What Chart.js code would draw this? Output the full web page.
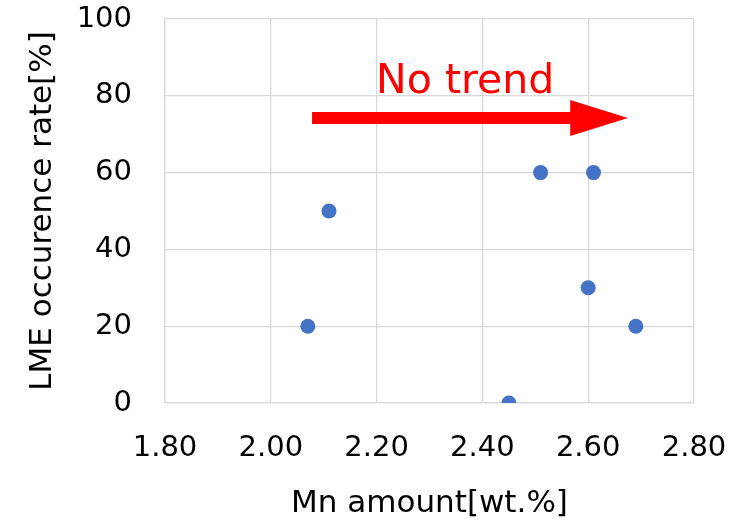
<!DOCTYPE html>
<html>
<head>
<meta charset="utf-8">
<script src="https://cdn.jsdelivr.net/npm/chart.js@4.4.1/dist/chart.umd.min.js"></script>
<style>
  html, body { margin: 0; padding: 0; background: #fff; }
  #wrap { width: 751px; height: 523px; }
</style>
</head>
<body>
<div id="wrap"><canvas id="c" width="751" height="523"></canvas></div>
<script>
// Mn content [wt.%] and LME occurrence rate [%] for each sample
const mnAmount = [2.07, 2.11, 2.45, 2.51, 2.60, 2.61, 2.69];
const lmeRate  = [20, 50, 0, 60, 30, 60, 20];

// Axis ranges and tick steps
const xTicks = [1.8, 2.0, 2.2, 2.4, 2.6, 2.8];
const yTicks = [0, 20, 40, 60, 80, 100];

// Annotation: trend arrow endpoints in data units, and its caption
const arrowStart = { x: 2.078, y: 74.2 };
const arrowEnd   = { x: 2.675, y: 74.2 };
const arrowHeadBase = 2.566;
const trendText = 'No trend';
const trendTextPos = { x: 2.2, y: 80.8 };

const FONT = 'DejaVu Sans, Verdana, sans-serif';

const points = mnAmount.map((x, i) => ({ x, y: lmeRate[i] }));

// Draws the red "No trend" arrow and caption on top of the plot
const trendArrow = {
  id: 'trendArrow',
  afterDatasetsDraw(chart) {
    const { ctx, scales: { x, y } } = chart;
    const x0 = x.getPixelForValue(arrowStart.x);
    const x1 = x.getPixelForValue(arrowEnd.x);
    const xh = x.getPixelForValue(arrowHeadBase);
    const yc = y.getPixelForValue(arrowStart.y);
    const shaft = 6, head = 18;
    ctx.save();
    ctx.fillStyle = '#FF0000';
    ctx.beginPath();
    ctx.moveTo(x0, yc - shaft);
    ctx.lineTo(xh, yc - shaft);
    ctx.lineTo(xh, yc - head);
    ctx.lineTo(x1, yc);
    ctx.lineTo(xh, yc + head);
    ctx.lineTo(xh, yc + shaft);
    ctx.lineTo(x0, yc + shaft);
    ctx.closePath();
    ctx.fill();
    ctx.font = '41px ' + FONT;
    ctx.textBaseline = 'alphabetic';
    ctx.textAlign = 'left';
    ctx.fillText(trendText, x.getPixelForValue(trendTextPos.x) - 0.5, y.getPixelForValue(trendTextPos.y));
    ctx.restore();
  }
};

new Chart(document.getElementById('c'), {
  type: 'scatter',
  data: {
    datasets: [{
      data: points,
      backgroundColor: '#4472C4',
      borderColor: '#4472C4',
      pointRadius: 7.5,
      pointHoverRadius: 7.5,
      borderWidth: 0
    }]
  },
  options: {
    responsive: false,
    animation: false,
    events: [],
    layout: { padding: { top: 19, right: 57, bottom: 0, left: 0 } },
    plugins: { legend: { display: false }, tooltip: { enabled: false } },
    scales: {
      x: {
        type: 'linear',
        min: xTicks[0],
        max: xTicks[xTicks.length - 1],
        afterBuildTicks(scale) { scale.ticks = xTicks.map(v => ({ value: v })); },
        afterFit(scale) {
          scale.height = 120;
          scale.paddingLeft = 0;
          scale.paddingRight = 0;
        },
        ticks: {
          font: { family: FONT, size: 29 },
          color: '#000',
          padding: 28,
          maxRotation: 0,
          callback: v => Number(v).toFixed(2)
        },
        grid: { color: '#D9D9D9', lineWidth: 1.3, drawTicks: false },
        border: { color: '#D9D9D9', width: 1.3 },
        title: {
          display: true,
          text: 'Mn amount[wt.%]',
          color: '#000',
          font: { family: FONT, size: 31 },
          padding: { top: 0, bottom: 0 }
        }
      },
      y: {
        type: 'linear',
        min: yTicks[0],
        max: yTicks[yTicks.length - 1],
        afterBuildTicks(scale) { scale.ticks = yTicks.map(v => ({ value: v })); },
        afterFit(scale) {
          scale.width = 165;
          scale.paddingTop = 0;
          scale.paddingBottom = 0;
        },
        ticks: {
          font: { family: FONT, size: 29 },
          color: '#000',
          padding: 33
        },
        grid: { color: '#D9D9D9', lineWidth: 1.3, drawTicks: false },
        border: { color: '#D9D9D9', width: 1.3 },
        title: {
          display: true,
          text: 'LME occurence rate[%]',
          color: '#000',
          font: { family: FONT, size: 31 },
          padding: { top: 24, bottom: 0 }
        }
      }
    }
  },
  plugins: [trendArrow]
});
</script>
</body>
</html>
